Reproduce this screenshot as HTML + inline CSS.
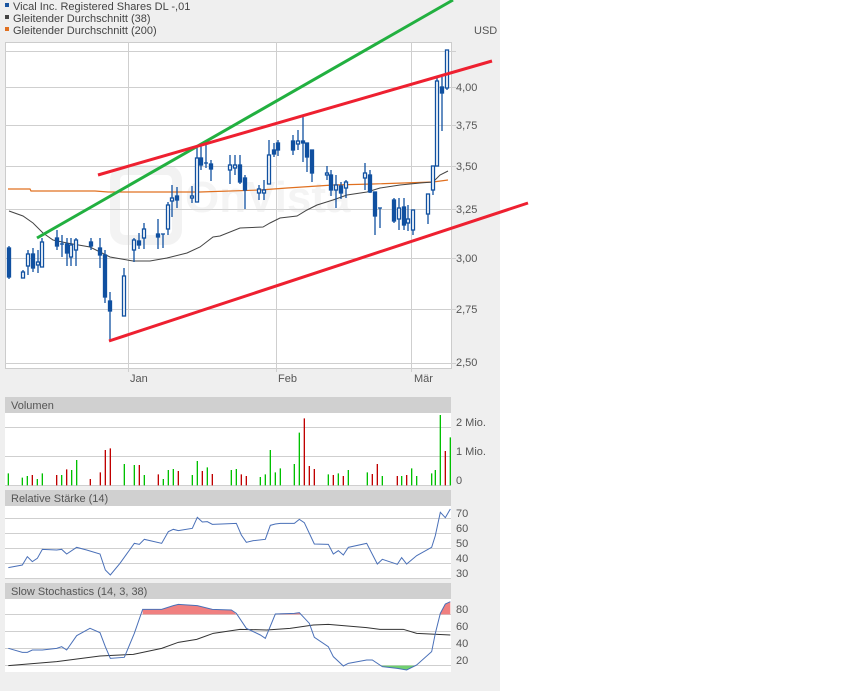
<!DOCTYPE html>
<html><head><meta charset="utf-8"><style>
html,body{margin:0;padding:0;background:#fff;}
svg{display:block;font-family:"Liberation Sans",sans-serif;}
</style></head><body>
<svg width="850" height="691" viewBox="0 0 850 691" xmlns="http://www.w3.org/2000/svg">
<rect x="0" y="0" width="500" height="691" fill="#efefef"/>
<g font-size="11" fill="#444">
<rect x="5" y="3" width="4" height="4" fill="#1a55a0"/><text x="13" y="10">Vical Inc. Registered Shares DL -,01</text>
<rect x="5" y="15" width="4" height="4" fill="#444"/><text x="13" y="22">Gleitender Durchschnitt (38)</text>
<rect x="5" y="27" width="4" height="4" fill="#e07020"/><text x="13" y="34">Gleitender Durchschnitt (200)</text>
<text x="474" y="34" fill="#555">USD</text>
</g>
<rect x="5.5" y="42.5" width="446" height="326" fill="#fff" stroke="#ccc"/>
<g stroke="#cfcfcf" stroke-width="1">
<line x1="5" y1="51.5" x2="456" y2="51.5"/>
<line x1="5" y1="87.5" x2="456" y2="87.5"/>
<line x1="5" y1="125.5" x2="456" y2="125.5"/>
<line x1="5" y1="166.5" x2="456" y2="166.5"/>
<line x1="5" y1="209.5" x2="456" y2="209.5"/>
<line x1="5" y1="258.5" x2="456" y2="258.5"/>
<line x1="5" y1="309.5" x2="456" y2="309.5"/>
<line x1="5" y1="363.5" x2="456" y2="363.5"/>
<line x1="128.5" y1="42" x2="128.5" y2="372"/>
<line x1="276.5" y1="42" x2="276.5" y2="372"/>
<line x1="411.5" y1="42" x2="411.5" y2="372"/>
</g>
<g opacity="0.3">
<rect x="115" y="170" width="62" height="70" rx="10" fill="none" stroke="#d6d6d6" stroke-width="10"/>
<text x="185" y="212" font-size="44" font-weight="bold" fill="#dcdcdc">OnVista</text>
</g>
<g font-size="11" fill="#555">
<text x="456" y="91">4,00</text><text x="456" y="129">3,75</text><text x="456" y="170">3,50</text>
<text x="456" y="213">3,25</text><text x="456" y="262">3,00</text><text x="456" y="313">2,75</text><text x="456" y="366">2,50</text>
<text x="130" y="382">Jan</text><text x="278" y="382">Feb</text><text x="414" y="382">Mär</text>
</g>
<polyline fill="none" stroke="#e07020" stroke-width="1.2" points="8,189 30,189 31,191 95,191 108,192 200,192 260,190 287,188 333,185 373,184 433,182 448,180"/>
<polyline fill="none" stroke="#444" stroke-width="1" points="9,211 23,216 33,223 43,233 53,240 67,243 90,247 110,257 133,261 150,261 167,258 187,253 200,247 213,237 220,236 240,228 263,227 270,223 280,218 297,216 307,210 317,205 333,200 347,195 367,192 380,188 400,185 420,183 433,182 440,175 448,171"/>
<g stroke="#1050a0" stroke-width="1.3" fill="#1050a0">
<line x1="9" y1="246" x2="9" y2="279"/><rect x="7.5" y="248" width="3" height="29"/>
<line x1="23" y1="270" x2="23" y2="278"/><rect x="21.5" y="272" width="3" height="6" fill="#fff"/>
<line x1="28" y1="250" x2="28" y2="275"/><rect x="26.5" y="254" width="3" height="12" fill="#fff"/>
<line x1="33" y1="248" x2="33" y2="272"/><rect x="31.5" y="254" width="3" height="14"/>
<line x1="38" y1="250" x2="38" y2="273"/><rect x="36.5" y="262" width="3" height="3" fill="#fff"/>
<line x1="42" y1="238" x2="42" y2="267"/><rect x="40.5" y="242" width="3" height="25" fill="#fff"/>
<line x1="57" y1="230" x2="57" y2="250"/><rect x="55.5" y="238" width="3" height="8"/>
<line x1="62" y1="235" x2="62" y2="257"/><line x1="60" y1="244" x2="64" y2="244"/>
<line x1="67" y1="238" x2="67" y2="266"/><rect x="65.5" y="244" width="3" height="9"/>
<line x1="71" y1="238" x2="71" y2="266"/><rect x="69.5" y="245" width="3" height="12" fill="#fff"/>
<line x1="76" y1="238" x2="76" y2="266"/><rect x="74.5" y="240" width="3" height="10" fill="#fff"/>
<line x1="91" y1="238" x2="91" y2="250"/><rect x="89.5" y="242" width="3" height="4"/>
<line x1="100" y1="238" x2="100" y2="268"/><rect x="98.5" y="248" width="3" height="7"/>
<line x1="105" y1="250" x2="105" y2="303"/><rect x="103.5" y="255" width="3" height="42"/>
<line x1="110" y1="292" x2="110" y2="341"/><rect x="108.5" y="301" width="3" height="10"/>
<line x1="124" y1="268" x2="124" y2="316"/><rect x="122.5" y="276" width="3" height="40" fill="#fff"/>
<line x1="134" y1="238" x2="134" y2="262"/><rect x="132.5" y="240" width="3" height="10" fill="#fff"/>
<line x1="139" y1="233" x2="139" y2="249"/><rect x="137.5" y="241" width="3" height="4"/>
<line x1="144" y1="223" x2="144" y2="249"/><rect x="142.5" y="229" width="3" height="9" fill="#fff"/>
<line x1="158" y1="219" x2="158" y2="249"/><rect x="156.5" y="234" width="3" height="3"/>
<line x1="163" y1="234" x2="163" y2="248"/><line x1="161" y1="234" x2="165" y2="234"/>
<line x1="168" y1="202" x2="168" y2="235"/><rect x="166.5" y="205" width="3" height="24" fill="#fff"/>
<line x1="172" y1="185" x2="172" y2="217"/><rect x="170.5" y="198" width="3" height="3" fill="#fff"/>
<line x1="177" y1="187" x2="177" y2="208"/><rect x="175.5" y="196" width="3" height="4"/>
<line x1="192" y1="186" x2="192" y2="203"/><rect x="190.5" y="196" width="3" height="2" fill="#fff"/>
<line x1="197" y1="145" x2="197" y2="202"/><rect x="195.5" y="158" width="3" height="44" fill="#fff"/>
<line x1="201" y1="145" x2="201" y2="170"/><rect x="199.5" y="158" width="3" height="7"/>
<line x1="206" y1="145" x2="206" y2="168"/><line x1="204" y1="163" x2="208" y2="163"/>
<line x1="211" y1="160" x2="211" y2="181"/><rect x="209.5" y="164" width="3" height="5"/>
<line x1="230" y1="155" x2="230" y2="184"/><rect x="228.5" y="165" width="3" height="5" fill="#fff"/>
<line x1="235" y1="155" x2="235" y2="175"/><rect x="233.5" y="165" width="3" height="3" fill="#fff"/>
<line x1="240" y1="155" x2="240" y2="184"/><rect x="238.5" y="165" width="3" height="17"/>
<line x1="245" y1="175" x2="245" y2="209"/><rect x="243.5" y="178" width="3" height="12"/>
<line x1="259" y1="185" x2="259" y2="200"/><rect x="257.5" y="189" width="3" height="4" fill="#fff"/>
<line x1="264" y1="180" x2="264" y2="200"/><rect x="262.5" y="190" width="3" height="3" fill="#fff"/>
<line x1="269" y1="140" x2="269" y2="184"/><rect x="267.5" y="155" width="3" height="29" fill="#fff"/>
<line x1="274" y1="143" x2="274" y2="157"/><rect x="272.5" y="150" width="3" height="4"/>
<line x1="278" y1="140" x2="278" y2="156"/><rect x="276.5" y="143" width="3" height="7"/>
<line x1="293" y1="135" x2="293" y2="155"/><rect x="291.5" y="141" width="3" height="9"/>
<line x1="298" y1="130" x2="298" y2="150"/><rect x="296.5" y="141" width="3" height="3" fill="#fff"/>
<line x1="303" y1="115" x2="303" y2="162"/><rect x="301.5" y="141" width="3" height="2"/>
<line x1="307" y1="143" x2="307" y2="172"/><rect x="305.5" y="143" width="3" height="14"/>
<line x1="312" y1="150" x2="312" y2="182"/><rect x="310.5" y="150" width="3" height="23"/>
<line x1="327" y1="166" x2="327" y2="180"/><rect x="325.5" y="173" width="3" height="2" fill="#fff"/>
<line x1="331" y1="170" x2="331" y2="196"/><rect x="329.5" y="175" width="3" height="15"/>
<line x1="336" y1="175" x2="336" y2="208"/><rect x="334.5" y="185" width="3" height="5" fill="#fff"/>
<line x1="341" y1="182" x2="341" y2="199"/><rect x="339.5" y="186" width="3" height="7"/>
<line x1="346" y1="180" x2="346" y2="198"/><rect x="344.5" y="182" width="3" height="6" fill="#fff"/>
<line x1="365" y1="163" x2="365" y2="190"/><rect x="363.5" y="173" width="3" height="5" fill="#fff"/>
<line x1="370" y1="170" x2="370" y2="193"/><rect x="368.5" y="175" width="3" height="17"/>
<line x1="375" y1="192" x2="375" y2="235"/><rect x="373.5" y="192" width="3" height="24"/>
<line x1="380" y1="208" x2="380" y2="228"/><line x1="378" y1="208" x2="382" y2="208"/>
<line x1="394" y1="198" x2="394" y2="223"/><rect x="392.5" y="200" width="3" height="21"/>
<line x1="399" y1="198" x2="399" y2="230"/><rect x="397.5" y="208" width="3" height="11" fill="#fff"/>
<line x1="404" y1="198" x2="404" y2="230"/><rect x="402.5" y="207" width="3" height="18"/>
<line x1="408" y1="205" x2="408" y2="231"/><rect x="406.5" y="219" width="3" height="4" fill="#fff"/>
<line x1="413" y1="210" x2="413" y2="235"/><rect x="411.5" y="210" width="3" height="20" fill="#fff"/>
<line x1="428" y1="194" x2="428" y2="224"/><rect x="426.5" y="194" width="3" height="20" fill="#fff"/>
<line x1="433" y1="166" x2="433" y2="195"/><rect x="431.5" y="166" width="3" height="24" fill="#fff"/>
<line x1="437" y1="78" x2="437" y2="166"/><rect x="435.5" y="81" width="3" height="85" fill="#fff"/>
<line x1="442" y1="77" x2="442" y2="131"/><rect x="440.5" y="87" width="3" height="6"/>
<line x1="447" y1="50" x2="447" y2="90"/><rect x="445.5" y="50" width="3" height="38" fill="#fff"/>
</g>
<line x1="37" y1="238" x2="453" y2="0" stroke="#22b040" stroke-width="3"/>
<line x1="98" y1="175" x2="492" y2="61" stroke="#ee2030" stroke-width="3"/>
<line x1="109" y1="341" x2="528" y2="203" stroke="#ee2030" stroke-width="3"/>
<g font-size="11" fill="#555">
<rect x="5" y="397" width="446" height="16" fill="#d0d0d0"/><text x="11" y="409">Volumen</text>
<rect x="5" y="413" width="446" height="73" fill="#fff"/>
<rect x="5" y="490" width="446" height="16" fill="#d0d0d0"/><text x="11" y="502">Relative Stärke (14)</text>
<rect x="5" y="506" width="446" height="72" fill="#fff"/>
<rect x="5" y="583" width="446" height="16" fill="#d0d0d0"/><text x="11" y="595">Slow Stochastics (14, 3, 38)</text>
<rect x="5" y="599" width="446" height="73" fill="#fff"/>
<text x="456" y="426">2 Mio.</text><text x="456" y="455">1 Mio.</text><text x="456" y="484">0</text>
<text x="456" y="517">70</text><text x="456" y="532">60</text><text x="456" y="547">50</text><text x="456" y="562">40</text><text x="456" y="577">30</text>
<text x="456" y="613">80</text><text x="456" y="630">60</text><text x="456" y="647">40</text><text x="456" y="664">20</text>
</g>
<g stroke="#cfcfcf">
<line x1="5" y1="427.5" x2="451" y2="427.5"/><line x1="5" y1="456.5" x2="451" y2="456.5"/><line x1="5" y1="485.5" x2="451" y2="485.5"/>
<line x1="5" y1="518.5" x2="451" y2="518.5"/><line x1="5" y1="533.5" x2="451" y2="533.5"/><line x1="5" y1="548.5" x2="451" y2="548.5"/><line x1="5" y1="563.5" x2="451" y2="563.5"/><line x1="5" y1="578.5" x2="451" y2="578.5"/>
<line x1="5" y1="614.5" x2="451" y2="614.5"/><line x1="5" y1="631.5" x2="451" y2="631.5"/><line x1="5" y1="648.5" x2="451" y2="648.5"/><line x1="5" y1="665.5" x2="451" y2="665.5"/>
</g>
<g transform="translate(0,380) scale(0.33333)">
<g stroke-width="4">
<path stroke="#00c000" d="M25 316V280M67 316V293M82 316V288M112 316V297M127 316V280M185 316V285M215 316V270M230 316V240M373 316V252M403 316V255M433 316V285M490 316V297M505 316V270M520 316V267M577 316V285M592 316V243M622 316V262M694 316V270M709 316V267M781 316V291M796 316V283M811 316V210M826 316V277M841 316V265M883 316V252M898 316V158M985 316V283M1015 316V280M1045 316V270M1102 316V277M1147 316V288M1205 316V288M1235 316V265M1250 316V288M1295 316V280M1306 316V270M1321 316V105M1351 316V172"/>
<path stroke="#c00000" d="M97 316V285M170 316V285M200 316V268M271 316V297M301 316V277M316 316V210M331 316V205M418 316V255M475 316V283M535 316V273M607 316V273M637 316V282M724 316V283M739 316V288M913 316V115M928 316V258M943 316V267M1000 316V285M1030 316V288M1117 316V282M1132 316V252M1192 316V288M1220 316V285M1336 316V213"/>
</g>
<polyline fill="none" stroke="#4a70b8" stroke-width="3" points="25,563 67,555 82,530 97,545 112,535 127,508 170,510 185,508 200,522 230,502 260,510 300,522 316,570 331,585 360,550 403,490 418,493 433,478 485,490 505,455 520,448 535,452 577,445 592,412 607,426 622,425 637,433 665,432 709,430 724,465 739,487 760,482 796,478 811,436 826,432 841,430 883,430 898,418 913,428 943,492 985,493 1000,522 1015,512 1030,525 1045,502 1100,490 1132,552 1147,538 1192,553 1205,533 1220,552 1250,527 1295,502 1306,467 1321,397 1336,413 1351,387"/>
<polygon fill="#f08080" points="428,703 428,688 485,688 520,677 535,673 592,677 637,688 694,690 709,703"/>
<polygon fill="#f08080" points="835,703 841,700 883,700 898,698 905,703"/>
<polygon fill="#f08080" points="1318,703 1321,700 1336,672 1351,665 1351,703"/>
<polygon fill="#70d070" points="1140,857 1147,860 1192,865 1220,870 1250,857"/>
<polyline fill="none" stroke="#333" stroke-width="3" points="25,857 170,845 300,828 400,823 485,805 535,787 590,778 640,760 720,748 800,750 870,745 940,735 985,733 1100,743 1140,748 1210,748 1250,760 1351,765"/>
<polyline fill="none" stroke="#4a70b8" stroke-width="3" points="25,805 67,817 82,817 97,810 127,810 170,805 185,800 200,810 230,767 270,745 300,758 316,800 331,835 373,832 403,760 428,688 485,688 520,677 535,673 592,677 637,688 694,690 709,700 739,745 781,765 796,775 826,702 883,700 898,698 928,730 943,772 985,800 1000,830 1030,858 1045,850 1100,840 1117,840 1147,860 1192,865 1220,870 1250,855 1295,815 1306,760 1321,700 1336,672 1351,665"/>
</g>
</svg>
</body></html>
